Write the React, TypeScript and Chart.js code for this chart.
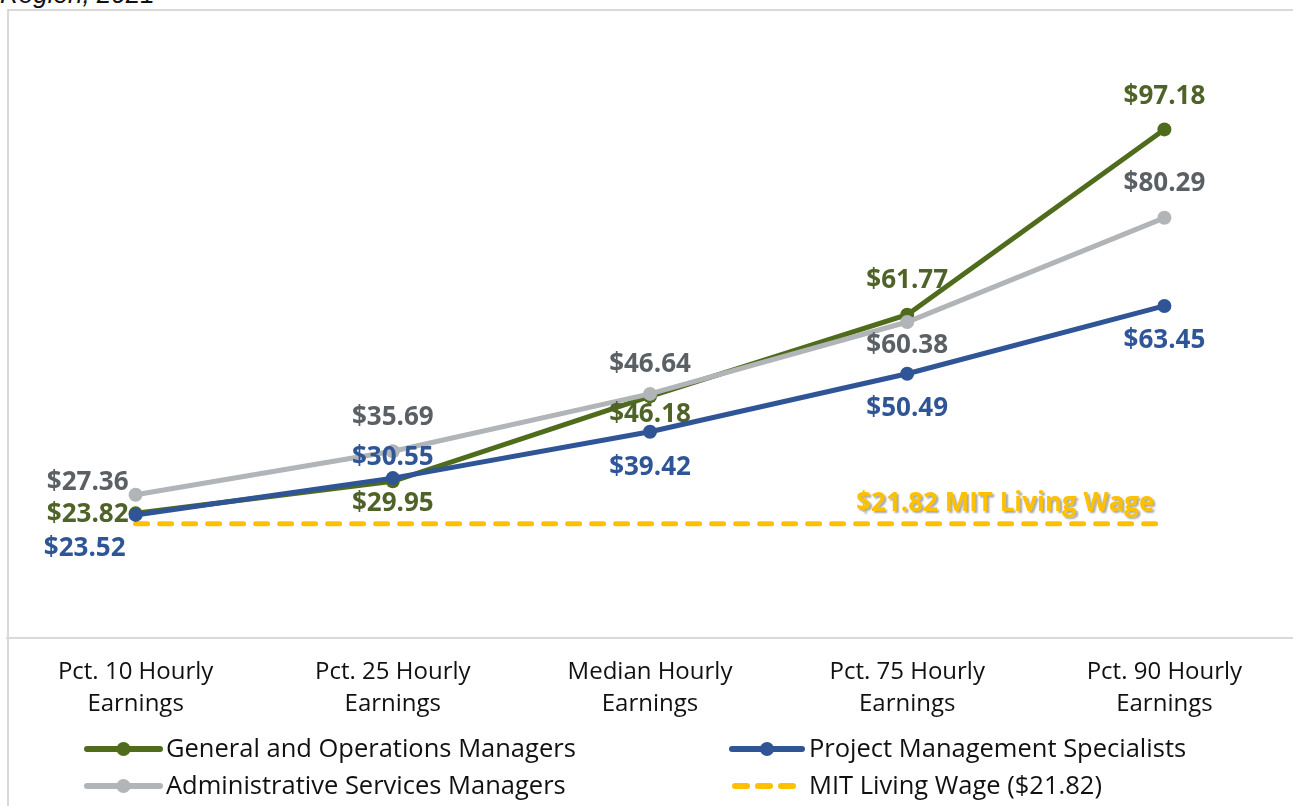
import React, { useEffect, useRef } from 'react';
import { Chart, registerables } from 'chart.js';

Chart.register(...registerables);

// ---------- Data ----------
const categories: string[][] = [
  ['Pct. 10 Hourly', 'Earnings'],
  ['Pct. 25 Hourly', 'Earnings'],
  ['Median Hourly', 'Earnings'],
  ['Pct. 75 Hourly', 'Earnings'],
  ['Pct. 90 Hourly', 'Earnings'],
];
const generalOps = [23.82, 29.95, 46.18, 61.77, 97.18];
const adminServices = [27.36, 35.69, 46.64, 60.38, 80.29];
const projectMgmt = [23.52, 30.55, 39.42, 50.49, 63.45];
const livingWage = [21.82, 21.82, 21.82, 21.82, 21.82];

const seriesNames = [
  'General and Operations Managers',
  'Project Management Specialists',
  'Administrative Services Managers',
  'MIT Living Wage ($21.82)',
];
const livingWageLabel = '$21.82 MIT Living Wage';
const yMin = 0;
const yMax = 120;

// ---------- Styles ----------
const GREEN = '#4f6b1c';
const GREEN_LABEL = '#4f6228';
const BLUE = '#2f5597';
const GRAY = '#b1b5b8';
const GRAY_LABEL = '#5b6065';
const GOLD = '#ffc000';
const FONT = "'Open Sans', Lato, sans-serif";

// label offsets relative to point: [dx, dy, align]
const generalLabelPos: [number, number, CanvasTextAlign][] = [
  [-7, 1, 'right'], [0, 22, 'center'], [0, 18, 'center'], [0, -34, 'center'], [0, -33, 'center'],
];
const adminLabelPos: [number, number, CanvasTextAlign][] = [
  [-7, -12, 'right'], [0, -34, 'center'], [0, -29, 'center'], [0, 24, 'center'], [0, -34, 'center'],
];
const projectLabelPos: [number, number, CanvasTextAlign][] = [
  [-10, 34, 'right'], [0, -21, 'center'], [0, 36, 'center'], [0, 35, 'center'], [0, 35, 'center'],
];

const dataLabelsPlugin = {
  id: 'dataLabelsCustom',
  afterDatasetsDraw(chart: any) {
    const ctx = chart.ctx;
    ctx.save();
    ctx.font = `bold 26px ${FONT}`;
    ctx.textBaseline = 'middle';
    const specs = [
      { idx: 0, color: GREEN_LABEL, pos: generalLabelPos, vals: generalOps },
      { idx: 1, color: GRAY_LABEL, pos: adminLabelPos, vals: adminServices },
      { idx: 2, color: BLUE, pos: projectLabelPos, vals: projectMgmt },
    ];
    specs.forEach((s) => {
      const meta = chart.getDatasetMeta(s.idx);
      meta.data.forEach((pt: any, i: number) => {
        const [dx, dy, align] = s.pos[i];
        ctx.fillStyle = s.color;
        ctx.textAlign = align;
        ctx.fillText('$' + s.vals[i].toFixed(2), pt.x + dx, pt.y + dy);
      });
    });
    // living wage label
    const lwMeta = chart.getDatasetMeta(3);
    const last = lwMeta.data[lwMeta.data.length - 1];
    ctx.font = `bold 26px ${FONT}`;
    ctx.textAlign = 'right';
    ctx.shadowColor = 'rgba(0,0,0,0.35)';
    ctx.shadowOffsetX = 2;
    ctx.shadowOffsetY = 2;
    ctx.shadowBlur = 2;
    ctx.fillStyle = GOLD;
    ctx.fillText(livingWageLabel, last.x - 10, last.y - 20);
    ctx.restore();
  },
};

const legendPlugin = {
  id: 'customLegend',
  afterDraw(chart: any) {
    const ctx = chart.ctx;
    ctx.save();
    const items = [
      { name: seriesNames[0], color: GREEN, x0: 87, x1: 160, y: 749, dash: false, tx: 166 },
      { name: seriesNames[1], color: BLUE, x0: 732, x1: 802, y: 749, dash: false, tx: 809 },
      { name: seriesNames[2], color: GRAY, x0: 87, x1: 160, y: 786, dash: false, tx: 166 },
      { name: seriesNames[3], color: GOLD, x0: 732, x1: 798, y: 786, dash: true, tx: 809 },
    ];
    items.forEach((it) => {
      ctx.beginPath();
      ctx.strokeStyle = it.color;
      ctx.lineWidth = 6;
      ctx.lineCap = 'round';
      if (it.dash) {
        ctx.setLineDash([12, 11]);
        ctx.moveTo(it.x0 + 3, it.y);
        ctx.lineTo(it.x1, it.y);
      } else {
        ctx.setLineDash([]);
        ctx.moveTo(it.x0, it.y);
        ctx.lineTo(it.x1, it.y);
      }
      ctx.stroke();
      ctx.setLineDash([]);
      if (!it.dash) {
        ctx.beginPath();
        ctx.fillStyle = it.color;
        ctx.arc((it.x0 + it.x1) / 2, it.y, 7, 0, Math.PI * 2);
        ctx.fill();
      }
      ctx.fillStyle = '#111111';
      ctx.font = `25.5px ${FONT}`;
      ctx.textAlign = 'left';
      ctx.textBaseline = 'middle';
      ctx.fillText(it.name, it.tx, it.y + 1);
    });
    ctx.restore();
  },
};

export default function App() {
  const canvasRef = useRef<HTMLCanvasElement | null>(null);

  useEffect(() => {
    if (!canvasRef.current) return;
    const chart = new Chart(canvasRef.current, {
      type: 'line',
      data: {
        labels: categories as any,
        datasets: [
          {
            label: seriesNames[0],
            data: generalOps,
            borderColor: GREEN,
            backgroundColor: GREEN,
            borderWidth: 5,
            pointRadius: 7,
            pointBackgroundColor: GREEN,
            pointBorderWidth: 0,
            order: 3,
          },
          {
            label: seriesNames[2],
            data: adminServices,
            borderColor: GRAY,
            backgroundColor: GRAY,
            borderWidth: 5,
            pointRadius: 7,
            pointBackgroundColor: GRAY,
            pointBorderWidth: 0,
            order: 2,
          },
          {
            label: seriesNames[1],
            data: projectMgmt,
            borderColor: BLUE,
            backgroundColor: BLUE,
            borderWidth: 5,
            pointRadius: 7,
            pointBackgroundColor: BLUE,
            pointBorderWidth: 0,
            order: 1,
          },
          {
            label: seriesNames[3],
            data: livingWage,
            borderColor: GOLD,
            backgroundColor: GOLD,
            borderWidth: 5,
            borderDash: [12, 12],
            borderCapStyle: 'round',
            pointRadius: 0,
            order: 4,
          },
        ],
      },
      options: {
        animation: false,
        responsive: false,
        devicePixelRatio: 1,
        layout: { padding: { left: 6, right: 4, top: 10, bottom: 0 } },
        plugins: {
          legend: { display: false },
          tooltip: { enabled: false },
          title: { display: false },
        },
        scales: {
          x: {
            offset: true,
            grid: { display: false, drawTicks: false, offset: true },
            border: { display: true, color: '#d9d9d9', width: 2 },
            ticks: {
              color: '#111111',
              font: { family: FONT, size: 24, lineHeight: 1.3 },
              padding: 19,
              maxRotation: 0,
              autoSkip: false,
            },
            afterFit: (scale: any) => {
              scale.height = 168;
            },
          },
          y: {
            display: false,
            min: yMin,
            max: yMax,
          },
        },
      },
      plugins: [dataLabelsPlugin, legendPlugin],
    });
    return () => chart.destroy();
  }, []);

  return (
    <div
      style={{
        position: 'fixed',
        left: 0,
        top: 0,
        width: 1293,
        height: 806,
        overflow: 'hidden',
        background: '#ffffff',
      }}
    >
      <div
        style={{
          position: 'absolute',
          left: 0,
          top: -21,
          fontFamily: "'Liberation Sans', Arial, sans-serif",
          fontStyle: 'italic',
          fontSize: 26,
          color: '#111111',
          whiteSpace: 'nowrap',
        }}
      >
        Region, 2021
      </div>
      <div
        style={{
          position: 'absolute',
          left: 7,
          top: 9,
          width: 1400,
          height: 1000,
          border: '2px solid #d9d9d9',
          boxSizing: 'border-box',
        }}
      />
      <canvas
        ref={canvasRef}
        width={1300}
        height={806}
        style={{ position: 'absolute', left: 0, top: 0, display: 'block', width: 1300, height: 806 }}
      />
    </div>
  );
}
